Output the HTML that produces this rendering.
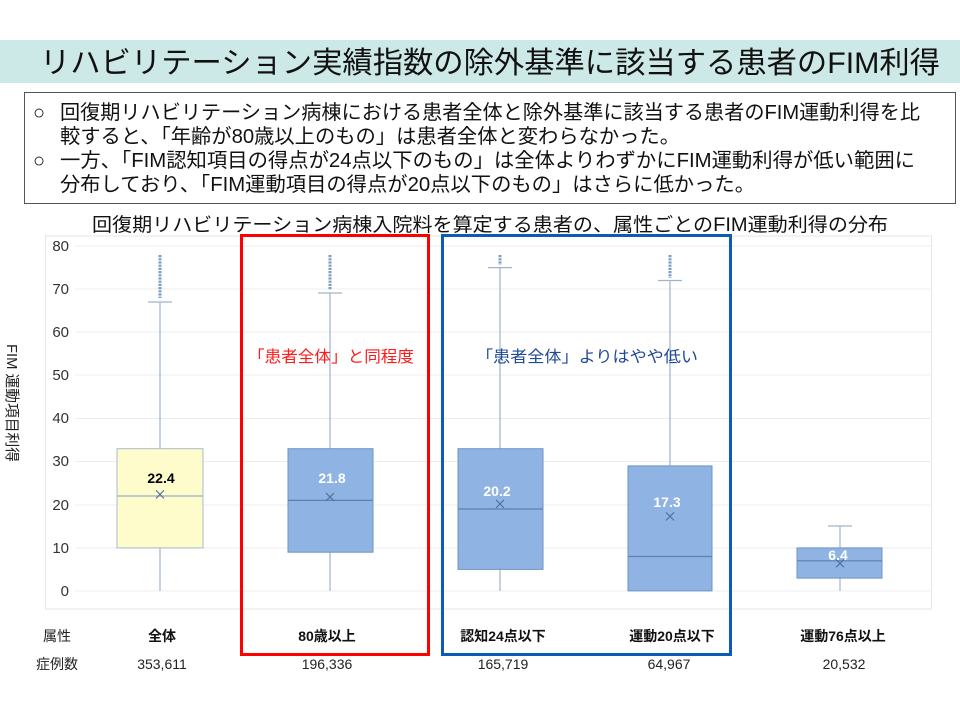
<!DOCTYPE html>
<html><head><meta charset="utf-8"><style>
body{margin:0;width:960px;height:720px;background:#fff;overflow:hidden;font-family:"Liberation Sans","Noto Sans CJK JP",sans-serif}
</style></head><body>
<svg width="960" height="720" style="position:absolute;left:0;top:0" font-family="Liberation Sans, Noto Sans CJK JP, sans-serif">
<rect x="0" y="40" width="960" height="43" fill="#cce8e7"/>
<text x="40" y="73" font-size="30" fill="#111" textLength="900" lengthAdjust="spacingAndGlyphs">リハビリテーション実績指数の除外基準に該当する患者のFIM利得</text>
<rect x="24.5" y="92.5" width="931" height="111" fill="none" stroke="#555"/>
<g font-size="20" fill="#111">
<text x="33" y="119">○</text>
<text x="60" y="119" textLength="860" lengthAdjust="spacingAndGlyphs">回復期リハビリテーション病棟における患者全体と除外基準に該当する患者のFIM運動利得を比</text>
<text x="60" y="143" textLength="620" lengthAdjust="spacingAndGlyphs">較すると、「年齢が80歳以上のもの」は患者全体と変わらなかった。</text>
<text x="33" y="167">○</text>
<text x="60" y="167" textLength="855" lengthAdjust="spacingAndGlyphs">一方、「FIM認知項目の得点が24点以下のもの」は全体よりわずかにFIM運動利得が低い範囲に</text>
<text x="60" y="191" textLength="695" lengthAdjust="spacingAndGlyphs">分布しており、「FIM運動項目の得点が20点以下のもの」はさらに低かった。</text>
</g>
<text x="92" y="231" font-size="19" fill="#111" textLength="796" lengthAdjust="spacingAndGlyphs">回復期リハビリテーション病棟入院料を算定する患者の、属性ごとのFIM運動利得の分布</text>
<rect x="45.5" y="236" width="886" height="373" fill="none" stroke="#e6e6e6"/>
<g stroke="#ececec" stroke-width="1">
<line x1="75" x2="930" y1="246" y2="246"/><line x1="75" x2="930" y1="289" y2="289"/><line x1="75" x2="930" y1="332" y2="332"/><line x1="75" x2="930" y1="375" y2="375"/><line x1="75" x2="930" y1="418.5" y2="418.5"/><line x1="75" x2="930" y1="461.5" y2="461.5"/><line x1="75" x2="930" y1="505" y2="505"/><line x1="75" x2="930" y1="548" y2="548"/><line x1="75" x2="930" y1="591" y2="591"/>
</g>
<g font-size="15" fill="#333" text-anchor="end">
<text x="69" y="251">80</text><text x="69" y="294">70</text><text x="69" y="337">60</text><text x="69" y="380">50</text><text x="69" y="423">40</text><text x="69" y="466">30</text><text x="69" y="510">20</text><text x="69" y="553">10</text><text x="69" y="596">0</text>
</g>
<text font-size="15" fill="#222" transform="translate(7 344) rotate(90)" textLength="118" lengthAdjust="spacingAndGlyphs">FIM 運動項目利得</text>
<g stroke="#9fb3cc" stroke-width="1.2">
<line x1="160" x2="160" y1="302" y2="591"/><line x1="148" x2="172" y1="302" y2="302"/>
<line x1="330" x2="330" y1="293" y2="591"/><line x1="318" x2="342" y1="293" y2="293"/>
<line x1="500" x2="500" y1="267.6" y2="591"/><line x1="488" x2="512" y1="267.6" y2="267.6"/>
<line x1="670" x2="670" y1="280.5" y2="591"/><line x1="658" x2="682" y1="280.5" y2="280.5"/>
<line x1="840" x2="840" y1="526" y2="591"/><line x1="828" x2="852" y1="526" y2="526"/>
</g>
<g fill="none" stroke="#7d9cc4" stroke-width="1">
<path d="M160 255V298M330 255V290M500 255V265M670 255V278" stroke-dasharray="2.2 1" stroke-width="3"/>
</g>
<rect x="117" y="448.7" width="86" height="99.2" fill="#fefccb" stroke="#a9b9cc"/>
<line x1="117" x2="203" y1="496" y2="496" stroke="#a9b9cc" stroke-width="1.5"/>
<g fill="#8fb3e2" stroke="#6d93c5">
<rect x="288" y="448.7" width="85" height="103.5"/>
<rect x="458" y="448.7" width="85" height="120.7"/>
<rect x="628" y="465.9" width="84" height="125"/>
<rect x="797" y="547.9" width="85" height="30.2"/>
</g>
<g stroke="#5d80b0" stroke-width="1.2">
<line x1="288" x2="373" y1="500.4" y2="500.4"/><line x1="458" x2="543" y1="509" y2="509"/><line x1="628" x2="712" y1="556.5" y2="556.5"/><line x1="797" x2="882" y1="560.8" y2="560.8"/>
</g>
<g stroke="#4d6d9c" stroke-width="1.1">
<path d="M156 490.4l8 8m0-8l-8 8M326 493l8 8m0-8l-8 8M496 499.9l8 8m0-8l-8 8M666 512.4l8 8m0-8l-8 8M836 559.4l8 8m0-8l-8 8"/>
</g>
<g font-size="14" font-weight="bold" text-anchor="middle">
<text x="161" y="483" fill="#000">22.4</text>
<text x="332" y="483" fill="#fff">21.8</text>
<text x="497" y="496" fill="#fff">20.2</text>
<text x="667" y="507" fill="#fff">17.3</text>
<text x="838" y="560" fill="#fff">6.4</text>
</g>
<rect x="241.5" y="235.5" width="187" height="419" fill="none" stroke="#ff0000" stroke-width="3"/>
<rect x="442.5" y="235.5" width="288" height="419" fill="none" stroke="#0a5cb8" stroke-width="3"/>
<text x="248" y="362" font-size="16" fill="#ff1a1a" textLength="166" lengthAdjust="spacingAndGlyphs">「患者全体」と同程度</text>
<text x="476" y="362" font-size="16" fill="#1f4a96" textLength="222" lengthAdjust="spacingAndGlyphs">「患者全体」よりはやや低い</text>
<g font-size="14" fill="#222" text-anchor="middle">
<text x="57" y="641">属性</text>
<text x="57" y="669">症例数</text>
<g font-weight="bold" fill="#111"><text x="162" y="641">全体</text><text x="327" y="641">80歳以上</text><text x="503" y="641">認知24点以下</text><text x="672" y="641">運動20点以下</text><text x="843" y="641">運動76点以上</text></g>
<text x="162" y="669">353,611</text><text x="327" y="669">196,336</text><text x="503" y="669">165,719</text><text x="669" y="669">64,967</text><text x="844" y="669">20,532</text>
</g>
</svg>
</body></html>
